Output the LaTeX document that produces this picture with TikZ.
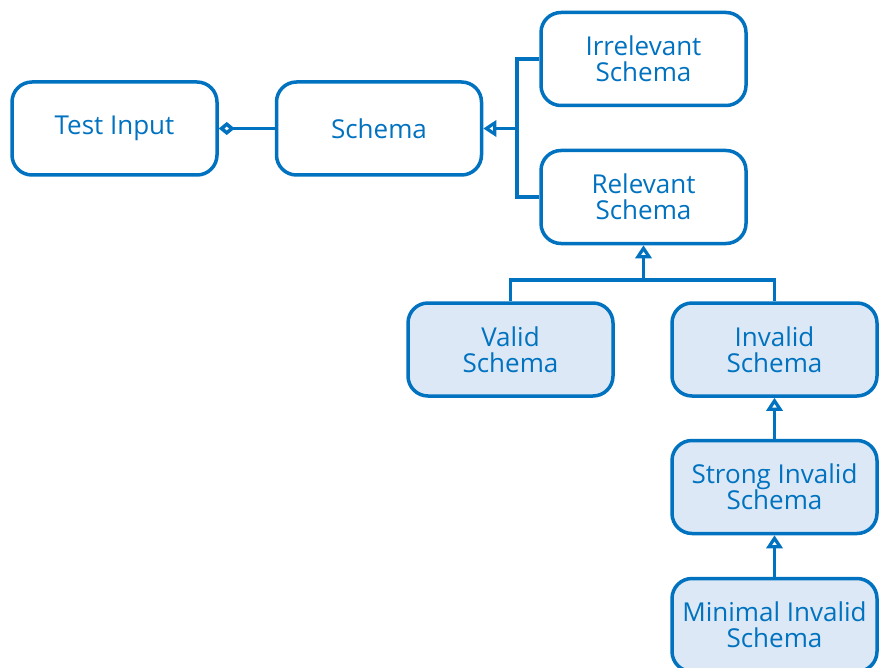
\documentclass[tikz,border=0pt]{standalone}
\usepackage{fontspec}
\setmainfont{Open Sans}
\usetikzlibrary{arrows.meta}
\definecolor{lineblue}{RGB}{0,114,192}
\definecolor{fillblue}{RGB}{220,232,245}
\tikzset{
  box/.style={draw=lineblue, line width=3.5pt, rounded corners=20pt, fill=white,
    minimum width=205pt, minimum height=93pt, align=center, text=lineblue,
    font=\fontsize{26}{26}\selectfont, inner sep=0pt},
  shaded/.style={box, fill=fillblue},
  link/.style={draw=lineblue, line width=3.5pt},
  gen/.style={link, -{Triangle[open, length=13pt, width=16pt, line width=3.5pt]}},
  agg/.style={link, -{Diamond[open, length=16pt, width=13pt, line width=3.5pt]}}
}
\begin{document}
\begin{tikzpicture}[x=1pt, y=-1pt]
  \useasboundingbox (0,0) rectangle (885,668);
  \node[box] (test) at (114.5,128.5) {Test Input};
  \node[box] (schema) at (379,128.5) {Schema};
  \node[box] (irr) at (643.5,59) {Irrelevant\\Schema};
  \node[box] (rel) at (643.5,197) {Relevant\\Schema};
  \node[shaded] (valid) at (510.5,349.5) {Valid\\Schema};
  \node[shaded] (inv) at (774.5,349.5) {Invalid\\Schema};
  \node[shaded] (strong) at (774.5,487) {Strong Invalid\\Schema};
  \node[shaded] (minimal) at (774.5,625) {Minimal Invalid\\Schema};

  % aggregation: test input holds a schema
  \draw[agg] (schema.west) -- (test.east);

  % schema splits into irrelevant and relevant
  \coordinate (j1) at (517,128.5);
  \draw[gen] (j1) -- (schema.east);
  \draw[link] (irr.west) -| (j1) |- (rel.west);

  % relevant splits into valid and invalid
  \coordinate (j2) at (643.5,280);
  \draw[gen] (j2) -- (rel.south);
  \draw[link] (valid.north) |- (j2) -| (inv.north);

  % invalid hierarchy
  \draw[gen] (strong.north) -- (inv.south);
  \draw[gen] (minimal.north) -- (strong.south);
\end{tikzpicture}
\end{document}
